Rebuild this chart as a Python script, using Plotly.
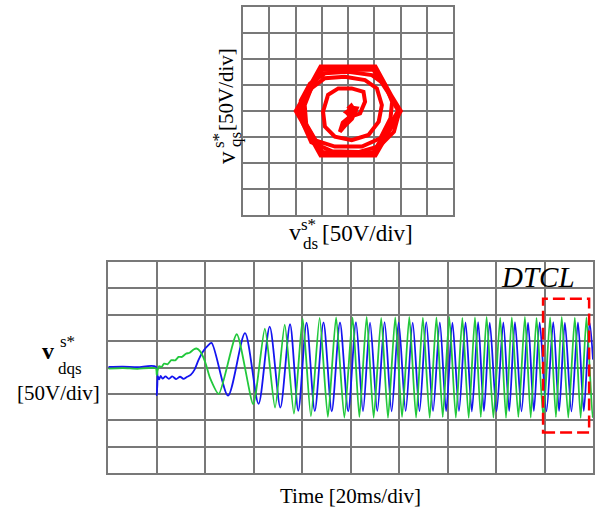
import plotly.graph_objects as go

# ---------------- data ----------------
# top XY plot (units: divisions of 50 V)
spiral_d = [0.00, 0.10, -0.05, 0.20, 0.33, 0.15, -0.10, -0.31, -0.20, 0.10,
            0.30, 0.46, 0.65, 0.59, 0.14, -0.37, -0.76, -0.95, -0.88, -0.50,
            0.14, 0.78, 1.17, 1.29, 1.10, 0.65, -0.12, -0.88, -1.40, -1.65,
            -1.59, -1.27, -0.50, 0.53, 1.23, 1.62, 1.68, 1.42, 0.91, 0.01,
            -0.88, -1.45, -1.80, -1.75, -1.40, -0.60, 0.40, 1.20, 1.75, 1.95]
spiral_q = [0.00, -0.08, -0.15, 0.12, 0.10, -0.30, -0.55, -0.80, -0.45, -0.20,
            -0.15, -0.09, 0.36, 0.74, 0.87, 0.87, 0.62, -0.03, -0.60, -0.99,
            -1.12, -0.92, -0.41, 0.23, 0.87, 1.19, 1.32, 1.26, 0.87, 0.23,
            -0.54, -1.12, -1.37, -1.37, -1.05, -0.28, 0.36, 1.00, 1.38, 1.51,
            1.45, 1.05, 0.40, -0.40, -1.20, -1.55, -1.58, -1.35, -0.80, -0.05]
hex_d = [1.95, 1.02, -1.02, -1.98, -1.02, 1.02, 1.99, 1.00, -1.00, -1.94, -1.00, 1.00, 1.96,
         1.04, -1.04, -1.97, -1.04, 1.04, 2.00, 0.97, -0.97, -1.91, -0.97, 0.97, 1.92]
hex_q = [-0.05, 1.68, 1.68, 0.00, -1.68, -1.68, 0.02, 1.64, 1.64, 0.00, -1.64, -1.64, 0.00,
         1.70, 1.70, 0.00, -1.70, -1.70, 0.00, 1.60, 1.60, 0.02, -1.60, -1.60, 0.00]
blob_d = [0.02, 0.12, 0.22, 0.10, 0.00, 0.18]
blob_q = [0.05, 0.15, 0.00, -0.12, -0.05, 0.08]

# bottom time plot (time in 20 ms divisions, voltage in 50 V divisions)
blue_t = [0.00, 0.30, 0.60, 0.98, 1.00, 1.02, 1.05, 1.08, 1.12, 1.18,
          1.25, 1.32, 1.40, 1.48, 1.55, 1.62, 1.70, 1.78, 1.86, 1.95,
          2.05, 2.13, 2.47, 2.82, 3.10, 3.33, 3.55, 3.75, 3.92, 4.09,
          4.26, 4.44, 4.61, 4.78, 4.95, 5.11, 5.255, 5.40, 5.55, 5.70,
          5.845, 5.99, 6.135, 6.28, 6.42, 6.56, 6.70, 6.84, 6.97, 7.10,
          7.235, 7.37, 7.50, 7.63, 7.75, 7.87, 8.01, 8.15, 8.27, 8.39,
          8.525, 8.66, 8.78, 8.90, 9.04, 9.18, 9.30, 9.42, 9.555, 9.69,
          9.81, 9.93, 10.0]
blue_v = [0.02, 0.03, 0.01, 0.03, -1.05, -0.33, -0.45, -0.32, -0.42, -0.34,
          -0.43, -0.34, -0.44, -0.35, -0.43, -0.36, -0.28, -0.08, 0.28, 0.60,
          0.82, 0.93, -1.07, 1.30, -1.38, 1.55, -1.52, 1.64, -1.64, 1.70,
          -1.65, 1.71, -1.66, 1.71, -1.66, 1.72, -1.66, 1.70, -1.65, 1.72,
          -1.66, 1.71, -1.65, 1.70, -1.66, 1.72, -1.65, 1.71, -1.66, 1.70,
          -1.65, 1.71, -1.66, 1.72, -1.65, 1.70, -1.66, 1.71, -1.65, 1.72,
          -1.66, 1.70, -1.65, 1.71, -1.66, 1.72, -1.65, 1.70, -1.66, 1.71,
          -1.65, 1.70, 0.30]
green_t = [0.00, 0.30, 0.60, 0.98, 1.00, 1.02, 1.05, 1.10, 1.15, 1.22,
           1.30, 1.38, 1.45, 1.52, 1.60, 1.68, 1.76, 1.82, 1.90, 2.00,
           2.10, 2.28, 2.65, 2.99, 3.23, 3.44, 3.64, 3.83, 4.01, 4.18,
           4.36, 4.53, 4.70, 4.87, 5.04, 5.18, 5.33, 5.475, 5.63, 5.77,
           5.92, 6.06, 6.21, 6.35, 6.49, 6.63, 6.77, 6.90, 7.035, 7.17,
           7.305, 7.435, 7.565, 7.685, 7.805, 7.945, 8.085, 8.205, 8.325, 8.46,
           8.595, 8.715, 8.835, 8.975, 9.115, 9.235, 9.355, 9.49, 9.625, 9.745,
           9.865, 9.99, 10.0]
green_v = [-0.04, -0.02, -0.05, -0.03, -0.30, -0.10, 0.05, 0.02, 0.15, 0.12,
           0.28, 0.27, 0.40, 0.40, 0.52, 0.56, 0.68, 0.72, 0.60, 0.20,
           -0.40, -1.00, 1.26, -1.39, 1.47, -1.52, 1.62, -1.75, 1.85, -1.85,
           1.88, -1.88, 1.90, -1.90, 1.90, -1.88, 1.92, -1.90, 1.88, -1.91,
           1.90, -1.88, 1.92, -1.90, 1.89, -1.91, 1.90, -1.88, 1.92, -1.90,
           1.88, -1.91, 1.90, -1.88, 1.92, -1.90, 1.89, -1.91, 1.90, -1.88,
           1.92, -1.90, 1.88, -1.91, 1.90, -1.88, 1.92, -1.90, 1.89, -1.91,
           1.90, -1.88, -1.80]

dtcl_t = [8.97, 9.92]
dtcl_v = [-2.46, 2.61]

# ---------------- figure ----------------
W, H = 596, 509
RED = "#ff0000"
BLUE = "#1414f0"
GREEN = "#22c83c"
GRID = "#787878"
SERIF = "Liberation Serif, Times New Roman, serif"

fig = go.Figure()
fig.add_trace(go.Scatter(x=spiral_d, y=spiral_q, mode="lines",
                         line=dict(color=RED, width=4), xaxis="x", yaxis="y"))
fig.add_trace(go.Scatter(x=hex_d, y=hex_q, mode="lines",
                         line=dict(color=RED, width=4.5), xaxis="x", yaxis="y"))
fig.add_trace(go.Scatter(x=blob_d, y=blob_q, mode="lines",
                         line=dict(color=RED, width=6), xaxis="x", yaxis="y"))
fig.add_trace(go.Scatter(x=blue_t, y=blue_v, mode="lines",
                         line=dict(color=BLUE, width=1.8, shape="spline", smoothing=0.8),
                         xaxis="x2", yaxis="y2"))
fig.add_trace(go.Scatter(x=green_t, y=green_v, mode="lines",
                         line=dict(color=GREEN, width=1.8, shape="spline", smoothing=0.6),
                         xaxis="x2", yaxis="y2"))


def px_x(p):
    return p / W


def px_y(p):
    return 1 - p / H


axis_common = dict(showticklabels=False, ticks="", showgrid=True, gridcolor=GRID,
                   gridwidth=1.5, zeroline=False, showline=True, linecolor=GRID,
                   linewidth=1.5, mirror=True, fixedrange=True)

fig.update_layout(
    width=W, height=H, margin=dict(l=0, r=0, t=0, b=0),
    paper_bgcolor="white", plot_bgcolor="white", showlegend=False,
    xaxis=dict(domain=[px_x(243), px_x(453)], range=[-4, 4], dtick=1, anchor="y", **axis_common),
    yaxis=dict(domain=[px_y(215), px_y(7)], range=[-4, 4], dtick=1, anchor="x", **axis_common),
    xaxis2=dict(domain=[px_x(108.3), px_x(593)], range=[0, 10], dtick=1, anchor="y2", **axis_common),
    yaxis2=dict(domain=[px_y(473), px_y(262)], range=[-4, 4], dtick=1, anchor="x2", **axis_common),
)

fig.add_shape(type="rect", xref="x2", yref="y2",
              x0=dtcl_t[0], x1=dtcl_t[1], y0=dtcl_v[0], y1=dtcl_v[1],
              line=dict(color=RED, width=2.5, dash="12px,5px"))


def ann(text, x, y, size, angle=0, bold=False, italic=False):
    if bold:
        text = "<b>" + text + "</b>"
    if italic:
        text = "<i>" + text + "</i>"
    fig.add_annotation(text=text, x=px_x(x), y=px_y(y), xref="paper", yref="paper",
                       showarrow=False, xanchor="center", yanchor="middle",
                       textangle=angle, font=dict(family=SERIF, size=size, color="black"))


# top y label (rotated)
ann("v", 226, 158, 25, angle=-90)
ann("s*", 219, 141, 17, angle=-90)
ann("qs", 236, 140, 17, angle=-90)
ann("[50V/div]", 226, 90, 21, angle=-90)
# top x label
ann("v", 295, 232, 24)
ann("s*", 309, 225, 17)
ann("ds", 310, 244, 17)
ann("[50V/div]", 367, 234, 23)
# bottom y label
ann("v", 48, 351, 24, bold=True)
ann("s*", 67, 341, 17)
ann("dqs", 70, 368, 17)
ann("[50V/div]", 58, 393, 21)
# bottom x label
ann("Time [20ms/div]", 350, 496, 21)
# DTCL
ann("DTCL", 538, 277, 29, italic=True)

fig.write_html("out.html")
